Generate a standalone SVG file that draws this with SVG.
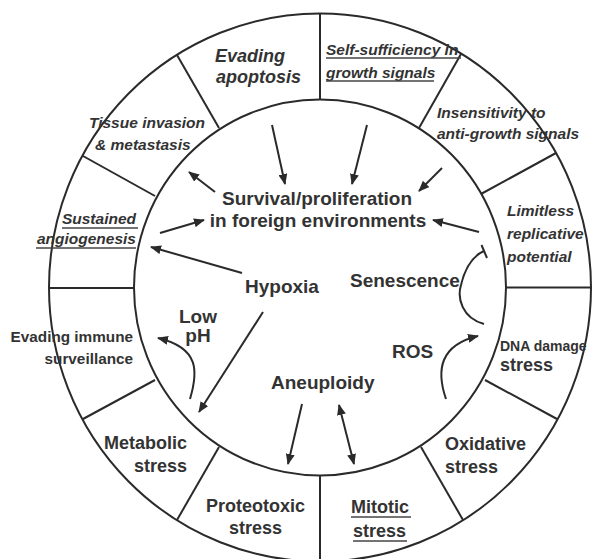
<svg xmlns="http://www.w3.org/2000/svg" width="594" height="559" viewBox="0 0 594 559">
<defs>
<style>
.ring{fill:none;stroke:#2a2a2a;stroke-width:2}
.div{stroke:#2a2a2a;stroke-width:2}
.t{font-family:"Liberation Sans",Arial,sans-serif;font-weight:bold;fill:#333}
.it{font-style:italic}
.s15{font-size:15.5px}
.s18{font-size:18px}
.s19{font-size:19px}
.ul{stroke:#444;stroke-width:1.5}
.arr{fill:none;stroke:#2a2a2a;stroke-width:2;marker-end:url(#ah)}
.dbl{fill:none;stroke:#2a2a2a;stroke-width:2;marker-end:url(#ah);marker-start:url(#ah)}
.inh{fill:none;stroke:#2a2a2a;stroke-width:2}
</style>
<marker id="ah" markerUnits="userSpaceOnUse" markerWidth="11" markerHeight="9" refX="10" refY="4.5" orient="auto-start-reverse">
<path d="M0,0 L11,4.5 L0,9 z" fill="#2a2a2a"/>
</marker>
</defs>
<rect width="594" height="559" fill="#fff"/>
<g id="ring">
<ellipse class="ring" cx="320" cy="287.5" rx="271" ry="274"/>
<ellipse class="ring" cx="320" cy="287.5" rx="186" ry="188"/>
<line class="div" x1="506" y1="287.5" x2="591" y2="287.5"/>
<line class="div" x1="481" y1="194" x2="556" y2="153"/>
<line class="div" x1="419" y1="128" x2="461" y2="54"/>
<line class="div" x1="320" y1="99.5" x2="320" y2="13.5"/>
<line class="div" x1="219" y1="128" x2="177" y2="55"/>
<line class="div" x1="155" y1="196" x2="83" y2="156"/>
<line class="div" x1="134" y1="288" x2="49" y2="288"/>
<line class="div" x1="155" y1="380" x2="83" y2="419"/>
<line class="div" x1="219" y1="447" x2="177" y2="520"/>
<line class="div" x1="320" y1="475.5" x2="320" y2="562"/>
<line class="div" x1="421" y1="447" x2="463" y2="520"/>
<line class="div" x1="485" y1="380" x2="557" y2="419"/>
</g>
<g id="evading-apoptosis"><text class="t it s18" x="215" y="62">Evading</text><text class="t it s18" x="216" y="83">apoptosis</text></g>
<g id="self-sufficiency"><text class="t it s15" x="326" y="55">Self-sufficiency in</text><text class="t it s15" x="326" y="78">growth signals</text><line class="ul" x1="326" y1="58" x2="461" y2="58"/><line class="ul" x1="326" y1="81" x2="434" y2="81"/></g>
<g id="insensitivity"><text class="t it s15" x="437" y="118">Insensitivity to</text><text class="t it s15" x="437" y="139">anti-growth signals</text></g>
<g id="limitless"><text class="t it s15" x="507" y="216">Limitless</text><text class="t it s15" x="507" y="239">replicative</text><text class="t it s15" x="507" y="262">potential</text></g>
<g id="tissue-invasion"><text class="t it s15" x="89" y="128">Tissue invasion</text><text class="t it s15" x="95" y="150">&amp; metastasis</text></g>
<g id="angiogenesis"><text class="t it s15" x="136" y="224" text-anchor="end">Sustained</text><text class="t it s15" x="136" y="244" text-anchor="end">angiogenesis</text><line class="ul" x1="62" y1="228" x2="138" y2="228"/><line class="ul" x1="36" y1="248" x2="136" y2="248"/></g>
<g id="immune"><text class="t" style="font-size:15.3px" x="133" y="342" text-anchor="end">Evading immune</text><text class="t" style="font-size:15.3px" x="133" y="364" text-anchor="end">surveillance</text></g>
<g id="metabolic"><text class="t s18" x="187" y="449" text-anchor="end">Metabolic</text><text class="t s18" x="187" y="472" text-anchor="end">stress</text></g>
<g id="proteotoxic"><text class="t s18" x="255.5" y="512" text-anchor="middle">Proteotoxic</text><text class="t s18" x="255.5" y="534" text-anchor="middle">stress</text></g>
<g id="mitotic"><text class="t s18" x="351" y="513">Mitotic</text><text class="t s18" x="353" y="537">stress</text><line class="ul" x1="351" y1="517" x2="411" y2="517"/><line class="ul" x1="353" y1="541" x2="407" y2="541"/></g>
<g id="oxidative"><text class="t s18" x="445" y="450">Oxidative</text><text class="t s18" x="445" y="473">stress</text></g>
<g id="dna-damage"><text class="t" style="font-size:14px" x="500" y="351">DNA damage</text><text class="t s18" x="500" y="371">stress</text></g>
<g id="survival"><text class="t s19" x="317" y="205" text-anchor="middle">Survival/proliferation</text><text class="t s19" x="318" y="227" text-anchor="middle">in foreign environments</text></g>
<g id="hypoxia"><text class="t s19" x="245" y="293">Hypoxia</text></g>
<g id="senescence"><text class="t s19" x="350" y="287">Senescence</text></g>
<g id="low-ph"><text class="t s19" x="198" y="323" text-anchor="middle">Low</text><text class="t s19" x="198" y="342" text-anchor="middle">pH</text></g>
<g id="ros"><text class="t s19" x="392" y="358">ROS</text></g>
<g id="aneuploidy"><text class="t s19" x="271" y="389">Aneuploidy</text></g>
<g id="connectors">
<line class="arr" x1="272" y1="125" x2="285" y2="184"/>
<line class="arr" x1="367" y1="125" x2="352" y2="184"/>
<line class="arr" x1="442" y1="168" x2="419" y2="191"/>
<line class="arr" x1="479" y1="232" x2="433" y2="220"/>
<line class="arr" x1="215" y1="192" x2="189" y2="172"/>
<line class="arr" x1="160" y1="233" x2="204" y2="220"/>
<line class="arr" x1="242" y1="273" x2="151" y2="247"/>
<line class="arr" x1="263" y1="312" x2="199" y2="412"/>
<path class="arr" d="M190,399 C198,372 200,348 158,338"/>
<line class="arr" x1="302" y1="404" x2="288" y2="464"/>
<line class="dbl" x1="339" y1="405" x2="354" y2="464"/>
<path class="arr" d="M446,399 C436,370 440,345 478,336"/>
<path class="inh" d="M484,324 C462,318 457,298 461,285 C465,268 473,256 484,251"/>
<line class="inh" x1="481.5" y1="245" x2="487" y2="258"/>
</g>
</svg>
